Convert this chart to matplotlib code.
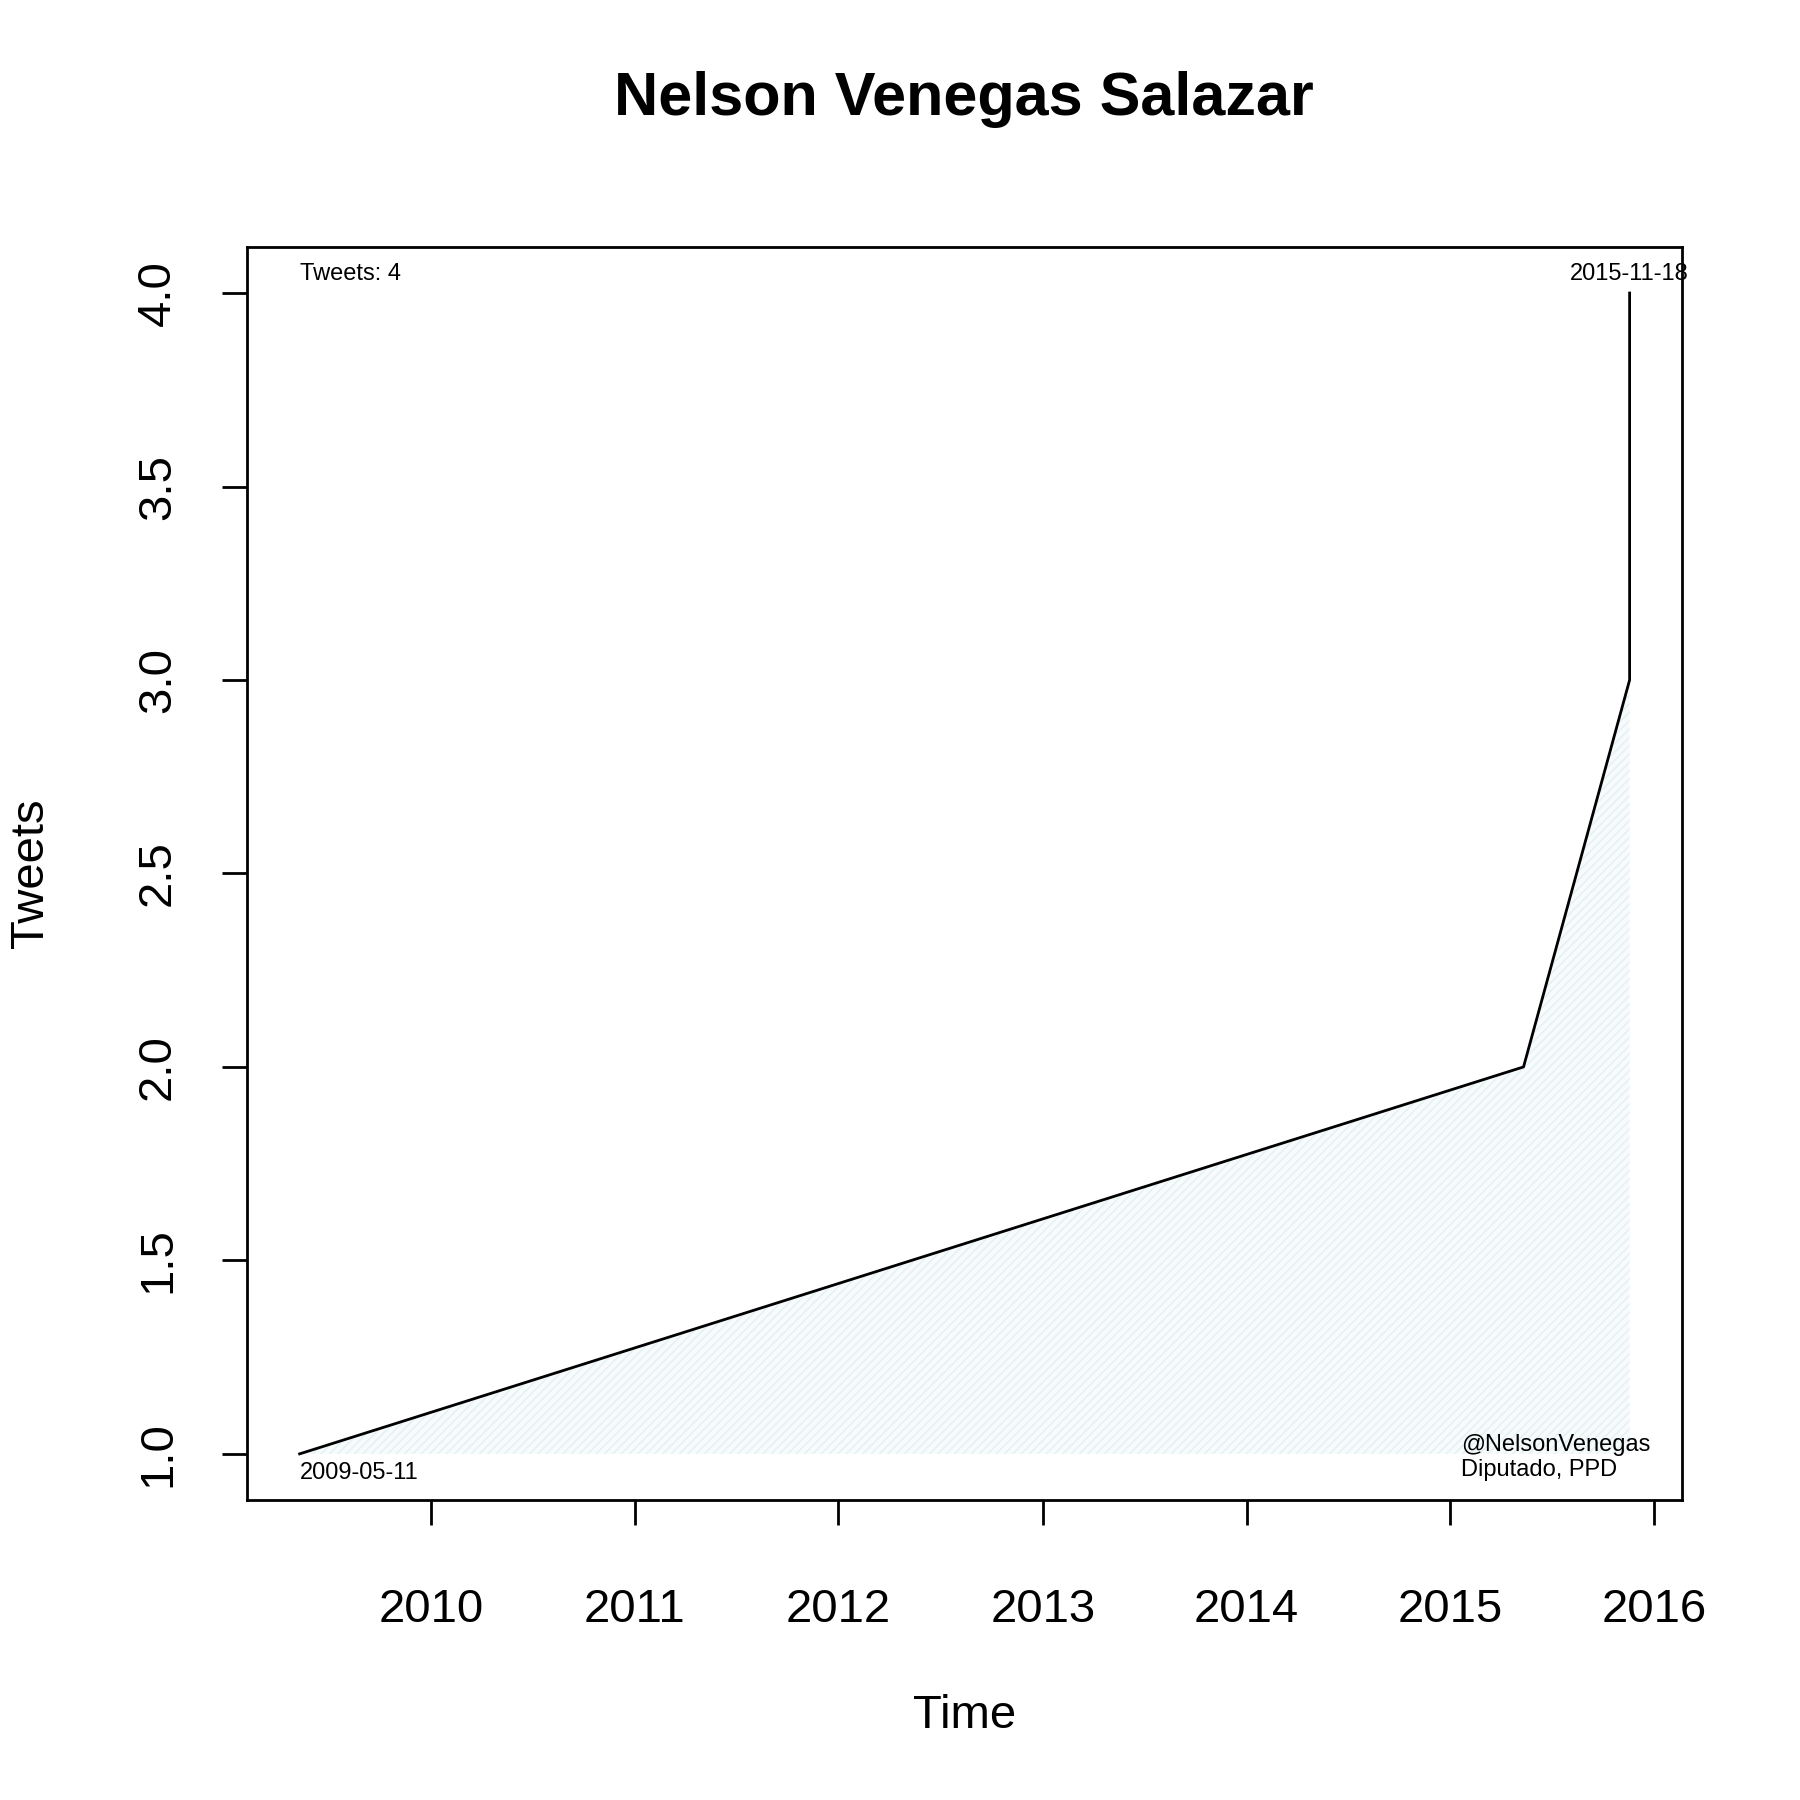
import matplotlib
matplotlib.use("Agg")
import matplotlib.pyplot as plt
from datetime import datetime

dates = ["2009-05-11", "2015-05-12", "2015-11-18", "2015-11-18"]
tweets = [1, 2, 3, 4]
years = [2010, 2011, 2012, 2013, 2014, 2015, 2016]

plt.rcParams['font.family'] = ['Liberation Sans', 'DejaVu Sans']
x = [datetime.strptime(d, "%Y-%m-%d") for d in dates]

fig = plt.figure(figsize=(18, 18), dpi=100)
ax = fig.add_axes([0.137, 0.1665, 0.7975, 0.6965])
ax.fill_between(x, 1, tweets, facecolor="#f7fbfc", edgecolor="#e3f0f4", hatch="////", linewidth=0)
ax.plot(x, tweets, color="black", lw=2)
ax.set_xlim(datetime(2009, 2, 5), datetime(2016, 2, 20))
ax.set_ylim(0.88, 4.12)
ax.set_xticks([datetime(y, 1, 1) for y in years])
ax.set_xticklabels([str(y) for y in years])
ax.set_yticks([1.0, 1.5, 2.0, 2.5, 3.0, 3.5, 4.0])
ax.set_yticklabels(["1.0", "1.5", "2.0", "2.5", "3.0", "3.5", "4.0"], rotation=90, va="center")
ax.tick_params(axis="both", labelsize=34, length=18, width=2, direction="out")
ax.tick_params(axis="x", pad=45)
ax.tick_params(axis="y", pad=30)
for s in ax.spines.values():
    s.set_linewidth(2)
ax.set_xlabel("Time", fontsize=34, labelpad=45)
ax.set_ylabel("Tweets", fontsize=34, labelpad=60)
ax.set_title("Nelson Venegas Salazar", fontsize=44, fontweight="bold", pad=95)
ax.text(x[0], 4.02, "Tweets: 4", fontsize=17, va="bottom", ha="left")
ax.text(x[-1], 4.02, "2015-11-18", fontsize=17, va="bottom", ha="center")
ax.text(x[0], 0.98, "2009-05-11", fontsize=17, va="top", ha="left")
ax.text(0.846, 0.015, "@NelsonVenegas\nDiputado, PPD", transform=ax.transAxes, fontsize=17, va="bottom", ha="left", linespacing=1.2)
fig.savefig("out.png", dpi=100)
